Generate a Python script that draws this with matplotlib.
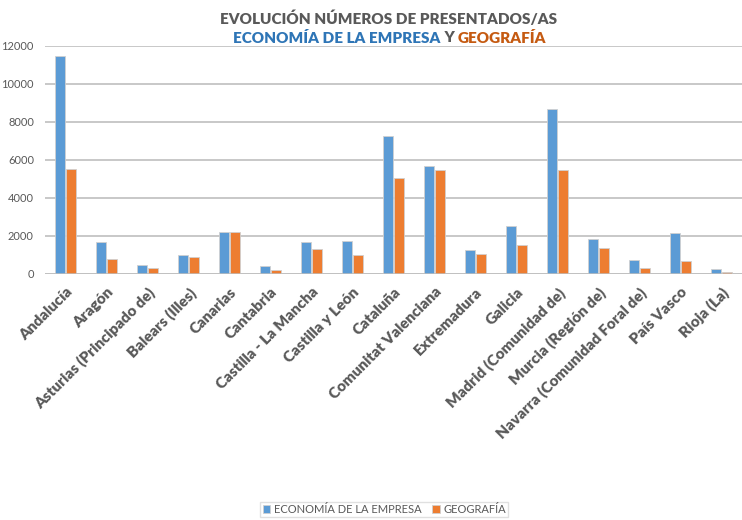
import matplotlib
matplotlib.use("Agg")
import matplotlib.pyplot as plt
import numpy as np

plt.rcParams['font.family'] = ['Lato', 'DejaVu Sans']

comunidades = ["Andalucía", "Aragón", "Asturias (Principado de)", "Balears (Illes)",
               "Canarias", "Cantabria", "Castilla - La Mancha", "Castilla y León",
               "Cataluña", "Comunitat Valenciana", "Extremadura", "Galicia",
               "Madrid (Comunidad de)", "Murcia (Región de)",
               "Navarra (Comunidad Foral de)", "País Vasco", "Rioja (La)"]
economia = [11450, 1670, 490, 1020, 2190, 440, 1680, 1760,
            7270, 5700, 1250, 2510, 8700, 1860, 750, 2180, 260]
geografia = [5550, 810, 330, 900, 2230, 200, 1340, 1020,
             5070, 5470, 1070, 1530, 5480, 1350, 330, 670, 120]

azul = "#5B9BD5"
naranja = "#ED7D31"
gris = "#595959"

fig = plt.figure(figsize=(7.42, 5.2), dpi=100)
ax = fig.add_axes([45/742, (520-274)/520, (742-45)/742, (274-46)/520])

x = np.arange(len(comunidades))
w = 0.235
ax.bar(x - w/2 - 0.02, economia, w, color=azul, edgecolor="#D0D0D0", linewidth=0.6,
       label="ECONOMÍA DE LA EMPRESA", zorder=3)
ax.bar(x + w/2 + 0.02, geografia, w, color=naranja, edgecolor="#D0D0D0", linewidth=0.6,
       label="GEOGRAFÍA", zorder=3)

ax.set_xlim(-0.5, len(comunidades) - 0.5)
ax.set_ylim(0, 12000)
ax.set_yticks(range(0, 12001, 2000))
ax.yaxis.grid(True, color="#BFBFBF", linewidth=1.2, zorder=0)
ax.axhline(0, color="#BFBFBF", linewidth=1.8, zorder=4)
for s in ax.spines.values():
    s.set_visible(False)
ax.tick_params(axis="both", length=0)
ax.tick_params(axis="y", labelsize=8, labelcolor=gris, pad=8)
ax.set_xticks(x)
ax.set_xticklabels(comunidades, rotation=45, ha="right", rotation_mode="anchor",
                   fontsize=11, fontweight="heavy", color=gris)
ax.tick_params(axis="x", pad=8)

# titulo
fig.text(0.523, 1 - 18/520, "EVOLUCIÓN NÚMEROS DE PRESENTADOS/AS", ha="center", va="center",
         fontsize=11, fontweight="heavy", color=gris)
partes = [("ECONOMÍA DE LA EMPRESA", "#2E75B6"), (" Y ", gris), ("GEOGRAFÍA", "#C55A11")]
fig.canvas.draw()
r = fig.canvas.get_renderer()
textos = []
for t, c in partes:
    textos.append(fig.text(0, 1 - 38/520, t, ha="left", va="center", fontsize=11,
                           fontweight="heavy", color=c))
anchos = [tt.get_window_extent(r).width for tt in textos]
x0 = 390 - sum(anchos) / 2
for tt, a in zip(textos, anchos):
    tt.set_x(x0 / 742)
    x0 += a

fig.legend(loc="upper center", bbox_to_anchor=(0.518, (520-502)/520), ncol=2,
           fontsize=8, frameon=True, fancybox=False, edgecolor="#D9D9D9",
           handlelength=0.7, handleheight=0.7, handletextpad=0.3, columnspacing=1.0,
           labelcolor=gris, borderpad=0.2, borderaxespad=0)

fig.savefig("out.png", dpi=100)
